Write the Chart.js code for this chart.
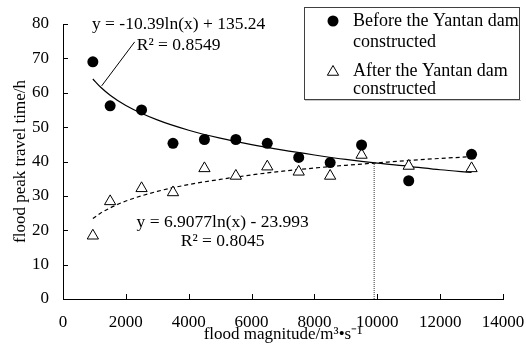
<!DOCTYPE html>
<html><head><meta charset="utf-8">
<script src="https://cdn.jsdelivr.net/npm/chart.js@4.4.0/dist/chart.umd.min.js"></script>
<style>html,body{margin:0;padding:0;background:#fff}canvas{display:block}</style>
</head><body>
<canvas id="c" width="526" height="347"></canvas>
<script>
// ---- data ----
const beforeX = [950, 1500, 2500, 3500, 4500, 5500, 6500, 7500, 8500, 9500, 11000, 13000];
const beforeY = [69.0, 56.2, 55.0, 45.3, 46.4, 46.4, 45.3, 41.2, 39.7, 44.8, 34.4, 42.1];
const afterX  = [950, 1500, 2500, 3500, 4500, 5500, 6500, 7500, 8500, 9500, 11000, 13000];
const afterY  = [18.4, 28.4, 32.2, 31.0, 38.0, 35.8, 38.5, 37.0, 35.8, 41.9, 38.7, 38.0];
const trendX       = [950, 1200, 1500, 2000, 3000, 4000, 5000, 6000, 7000, 8000, 9000, 10000, 11000, 12000, 13000];
const beforeTrendY = [64.0, 61.6, 59.3, 56.3, 52.1, 49.1, 46.8, 44.9, 43.3, 41.9, 40.6, 39.5, 38.6, 37.6, 36.8];
const afterTrendY  = [23.4, 25.0, 26.5, 28.5, 31.3, 33.3, 34.8, 36.1, 37.2, 38.1, 38.9, 39.6, 40.3, 40.9, 41.4];
const crossX = [9900, 9900];
const crossY = [0, 39.6];
const xTicks = [0, 2000, 4000, 6000, 8000, 10000, 12000, 14000];
const yTicks = [0, 10, 20, 30, 40, 50, 60, 70, 80];
const seriesNames = ['Before the Yantan dam constructed', 'After the Yantan dam constructed'];
const legendLines = [['Before the Yantan dam', 'constructed'], ['After the Yantan dam', 'constructed']];
const eqBefore = ['y = -10.39ln(x) + 135.24', 'R² = 0.8549'];
const eqAfter  = ['y = 6.9077ln(x) - 23.993', 'R² = 0.8045'];
const xTitle = 'flood magnitude/m³•s⁻¹';
const yTitle = 'flood peak travel time/h';

const pts = (xs, ys) => xs.map((v, i) => ({x: v, y: ys[i]}));
const FONT = "'Liberation Serif', 'Times New Roman', serif";
Chart.defaults.font.family = FONT;
Chart.defaults.color = '#000';

const extras = {
  id: 'extras',
  afterDraw(chart) {
    const {ctx, chartArea: a} = chart;
    const x = chart.scales.x, y = chart.scales.y;
    ctx.save();
    ctx.strokeStyle = '#000';
    ctx.lineWidth = 1;
    ctx.beginPath();
    xTicks.forEach(v => { const px = Math.round(x.getPixelForValue(v)) + 0.5; ctx.moveTo(px, a.bottom); ctx.lineTo(px, a.bottom - 5); });
    yTicks.forEach(v => { const py = Math.round(y.getPixelForValue(v)) + 0.5; ctx.moveTo(a.left, py); ctx.lineTo(a.left + 5, py); });
    ctx.stroke();
    // leader line for upper equation
    ctx.beginPath();
    ctx.moveTo(x.getPixelForValue(2280), y.getPixelForValue(74.8));
    ctx.lineTo(x.getPixelForValue(1230), y.getPixelForValue(62.0));
    ctx.stroke();
    // equations
    ctx.fillStyle = '#000';
    ctx.font = '17.5px ' + FONT;
    ctx.textAlign = 'center';
    ctx.textBaseline = 'middle';
    ctx.fillText(eqBefore[0], x.getPixelForValue(3680), y.getPixelForValue(80.0));
    ctx.fillText(eqBefore[1], x.getPixelForValue(3680), y.getPixelForValue(73.9));
    ctx.fillText(eqAfter[0], x.getPixelForValue(5080), y.getPixelForValue(22.4));
    ctx.fillText(eqAfter[1], x.getPixelForValue(5080), y.getPixelForValue(16.9));
    // legend
    ctx.strokeStyle = '#c8c8c8';
    ctx.beginPath(); ctx.moveTo(305, 100.5); ctx.lineTo(521, 100.5); ctx.stroke();
    ctx.strokeStyle = '#404040';
    ctx.strokeRect(304.5, 7.5, 215, 92);
    ctx.fillStyle = '#000';
    ctx.beginPath(); ctx.arc(333, 21, 5.5, 0, Math.PI * 2); ctx.fill();
    ctx.beginPath();
    const r = 6.5, cx = 333, cy = 72;
    ctx.moveTo(cx, cy - r);
    ctx.lineTo(cx + r * 0.866, cy + r * 0.5);
    ctx.lineTo(cx - r * 0.866, cy + r * 0.5);
    ctx.closePath();
    ctx.fillStyle = '#fff'; ctx.fill();
    ctx.strokeStyle = '#000'; ctx.stroke();
    ctx.fillStyle = '#000';
    ctx.textAlign = 'left';
    ctx.font = '18px ' + FONT;
    ctx.fillText(legendLines[0][0], 353, 21);
    ctx.fillText(legendLines[0][1], 353, 42);
    ctx.fillText(legendLines[1][0], 353, 71);
    ctx.fillText(legendLines[1][1], 353, 89);
    ctx.restore();
  }
};

new Chart(document.getElementById('c'), {
  type: 'scatter',
  data: {
    datasets: [
      {label: seriesNames[0], data: pts(beforeX, beforeY), pointStyle: 'circle', pointRadius: 5.5,
       backgroundColor: '#000', borderColor: '#000', borderWidth: 0, showLine: false},
      {label: seriesNames[1], data: pts(afterX, afterY), pointStyle: 'triangle', pointRadius: 6.5,
       backgroundColor: '#fff', borderColor: '#000', borderWidth: 1, showLine: false},
      {label: 'trend before', data: pts(trendX, beforeTrendY), showLine: true, pointRadius: 0,
       borderColor: '#000', borderWidth: 1.2, cubicInterpolationMode: 'monotone'},
      {label: 'trend after', data: pts(trendX, afterTrendY), showLine: true, pointRadius: 0,
       borderColor: '#000', borderWidth: 1.2, borderDash: [4, 3], cubicInterpolationMode: 'monotone'},
      {label: 'cross', data: pts(crossX, crossY), showLine: true, pointRadius: 0,
       borderColor: '#333', borderWidth: 1, borderDash: [1, 1]}
    ]
  },
  options: {
    responsive: false,
    animation: false,
    devicePixelRatio: 1,
    layout: {padding: {left: 0, right: 23, top: 24, bottom: 0}},
    plugins: {legend: {display: false}, tooltip: {enabled: false}},
    scales: {
      x: {
        type: 'linear', min: 0, max: 14000,
        afterBuildTicks: s => { s.ticks = xTicks.map(v => ({value: v})); },
        afterFit: s => { s.height = 48; s.paddingLeft = 0; s.paddingRight = 0; },
        grid: {display: false, drawTicks: false},
        border: {display: true, color: '#000', width: 1},
        ticks: {font: {size: 17}, color: '#000', padding: 13, maxRotation: 0, callback: v => String(v)},
        title: {display: true, text: xTitle, font: {size: 17}, color: '#000', padding: {top: 0, bottom: 2}}
      },
      y: {
        type: 'linear', min: 0, max: 80,
        afterBuildTicks: s => { s.ticks = yTicks.map(v => ({value: v})); },
        afterFit: s => { s.width = 63; s.paddingTop = 0; s.paddingBottom = 0; },
        grid: {display: false, drawTicks: false},
        border: {display: true, color: '#000', width: 1},
        ticks: {font: {size: 17}, color: '#000', padding: 14, callback: v => String(v)},
        title: {display: true, text: yTitle, font: {size: 17}, color: '#000', padding: {top: 10, bottom: 0}}
      }
    }
  },
  plugins: [extras]
});
</script>
</body></html>
